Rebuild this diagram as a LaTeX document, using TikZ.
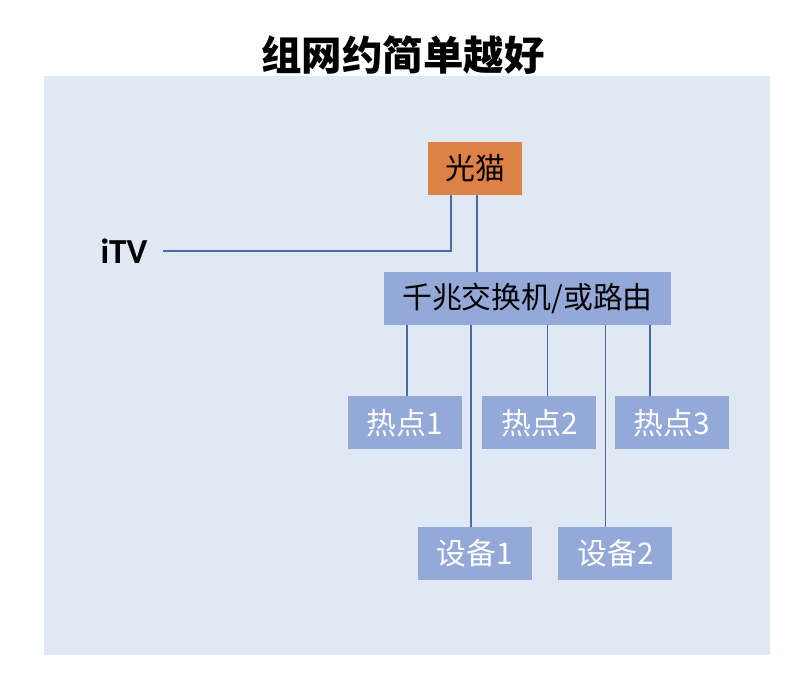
\documentclass[tikz,border=0pt]{standalone}
\usepackage{fontspec}
\usepackage{xcolor}
\usetikzlibrary{positioning, calc}
\setmainfont{Carlito}
\newfontfamily\cjk{Noto Sans CJK SC}
\definecolor{panelbg}{HTML}{DFE8F3}
\definecolor{modemfill}{HTML}{DD8146}
\definecolor{boxfill}{HTML}{94A9D8}
\definecolor{wire}{HTML}{4A6AAE}
\tikzset{
    blk/.style={fill=boxfill, inner sep=0pt, minimum height=1.59cm,
                font=\cjk\fontsize{25.5}{28}\selectfont},
    hot/.style={blk, text=white, minimum width=3.42cm},
    wir/.style={wire, line width=1.6pt},
}

\begin{document}
\begin{tikzpicture}
    \useasboundingbox (0,0) rectangle (23.76,-20.34);
    \fill[panelbg] (1.32,-2.28) rectangle (23.1,-19.65);
    \node[font=\cjk\bfseries\fontsize{34.5}{38}\selectfont] (title) at (12.09,-1.65) {组网约简单越好};
    \node[blk, fill=modemfill, minimum width=2.82cm] (modem) at (14.25,-5.055) {光猫};
    \node[blk, minimum width=8.61cm] (sw) at (15.825,-8.955) {千兆交换机/或路由};
    \node[font=\bfseries\fontsize{30}{32}\selectfont, inner sep=0pt] (itv) at (3.72,-7.53) {iTV};
    % hotspots
    \node[hot, anchor=north west] (h1) at ([shift={(-1.08,-2.13)}]sw.south west) {热点1};
    \node[hot, right=0.6cm of h1] (h2) {热点2};
    \node[hot, right=0.54cm of h2] (h3) {热点3};
    % devices
    \node[hot, anchor=north west] (d1) at ([shift={(2.1,-2.31)}]h1.south west) {设备1};
    \node[hot, right=0.78cm of d1] (d2) {设备2};
    % wiring
    \draw[wir] ([xshift=-0.72cm]modem.south) |- ([xshift=0.45cm]itv.east);
    \draw[wir] ([xshift=0.06cm]modem.south) -- ([xshift=0.06cm]modem.south |- sw.north);
    \draw[wir] ([xshift=0.06cm]h1.north) -- ([xshift=0.06cm]h1.north |- sw.south);
    \draw[wir] ([xshift=0.24cm]h2.north) -- ([xshift=0.24cm]h2.north |- sw.south);
    \draw[wir] ([xshift=-0.66cm]h3.north) -- ([xshift=-0.66cm]h3.north |- sw.south);
    \draw[wir] ([xshift=-0.12cm]d1.north) -- ([xshift=-0.12cm]d1.north |- sw.south);
    \draw[wir] ([xshift=-0.3cm]d2.north) -- ([xshift=-0.3cm]d2.north |- sw.south);
\end{tikzpicture}
\end{document}
